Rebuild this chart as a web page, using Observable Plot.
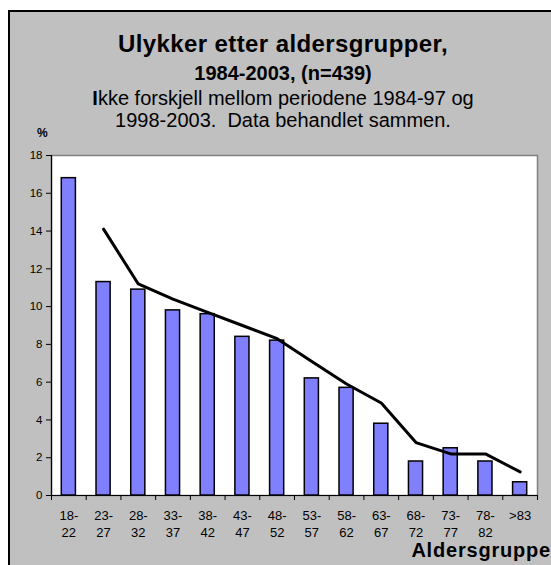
<!DOCTYPE html>
<html>
<head>
<meta charset="utf-8">
<script src="https://cdn.jsdelivr.net/npm/d3@7"></script>
<script src="https://cdn.jsdelivr.net/npm/@observablehq/plot@0.6"></script>
<style>
  html, body { margin: 0; padding: 0; background: #fff; overflow: hidden; width: 551px; height: 565px; }
  body { position: relative; font-family: "Liberation Sans", Arial, sans-serif; color: #000; }
  #box { position: absolute; left: 8px; top: 10px; width: 600px; height: 600px; background: #c0c0c0;
         border-left: 2px solid #000; border-top: 2px solid #000; }
  .t { position: absolute; left: 0; width: 566px; text-align: center; white-space: nowrap; line-height: normal; }
  #chart { position: absolute; left: 0; top: 140px; }
</style>
</head>
<body>
<div id="box"></div>
<div class="t" style="top:30px;font-size:24px;font-weight:bold;letter-spacing:0.4px;">Ulykker etter aldersgrupper,</div>
<div class="t" style="top:62px;font-size:20px;font-weight:bold;">1984-2003, (n=439)</div>
<div class="t" style="top:87px;font-size:20px;"><b>I</b>kke forskjell mellom periodene 1984-97 og</div>
<div class="t" style="top:109px;font-size:20px;">1998-2003.&nbsp; Data behandlet sammen.</div>
<div style="position:absolute;left:37px;top:126px;font-size:12px;font-weight:bold;">%</div>
<div id="chart"></div>
<div style="position:absolute;right:0px;top:539px;font-size:20px;font-weight:bold;letter-spacing:0.8px;white-space:nowrap;">Aldersgruppe</div>
<script>
const ageGroups = ["18-22","23-27","28-32","33-37","38-42","43-47","48-52","53-57","58-62","63-67","68-72","73-77","78-82",">83"];
const barValues = [16.8, 11.3, 10.9, 9.8, 9.6, 8.4, 8.2, 6.2, 5.7, 3.8, 1.8, 2.5, 1.8, 0.7];
const lineValues = [null, 14.1, 11.2, 10.4, 9.7, 9.0, 8.3, 7.1, 5.9, 4.9, 2.8, 2.2, 2.2, 1.25];
const yTicks = [0, 2, 4, 6, 8, 10, 12, 14, 16, 18];

const rows = ageGroups.map((g, i) => ({i, g, bar: barValues[i], line: lineValues[i]}));
const fmt = g => g.includes("-") ? g.replace("-", "-\n") : g;

const chart = Plot.plot({
  width: 551,
  height: 425,
  marginLeft: 51,
  marginRight: 14,
  marginTop: 15,
  marginBottom: 70,
  style: {fontFamily: "'Liberation Sans', Arial, sans-serif", color: "#000", background: "transparent", overflow: "visible"},
  x: {domain: [0, ageGroups.length], axis: null},
  y: {domain: [0, 18], axis: null},
  marks: [
    Plot.frame({fill: "white", stroke: "#808080", strokeWidth: 1.5}),
    Plot.rectY(rows, {x1: d => d.i, x2: d => d.i + 1, y: "bar", fill: "#8080ff", stroke: "black", strokeWidth: 1.5, insetLeft: 10.3, insetRight: 10.3}),
    Plot.line(rows.filter(d => d.line != null), {x: d => d.i + 0.5, y: "line", stroke: "black", strokeWidth: 3, strokeLinejoin: "round"}),
    Plot.ruleX([0], {stroke: "black", strokeWidth: 1.2}),
    Plot.ruleY([0], {stroke: "black", strokeWidth: 1.2}),
    Plot.axisY({ticks: yTicks, tickSize: 5, tickPadding: 4, fontSize: 11.5, tickFormat: d => String(d), label: null, stroke: "black"}),
    Plot.axisX({ticks: d3.range(0, ageGroups.length + 1), tickSize: 5, tickFormat: () => "", label: null, stroke: "black"}),
    Plot.text(rows, {x: d => d.i + 0.5, y: 0, text: d => fmt(d.g), lineAnchor: "top", dy: 12, fontSize: 13, lineHeight: 1.31, fill: "black"})
  ]
});
document.getElementById("chart").appendChild(chart);
</script>
</body>
</html>
